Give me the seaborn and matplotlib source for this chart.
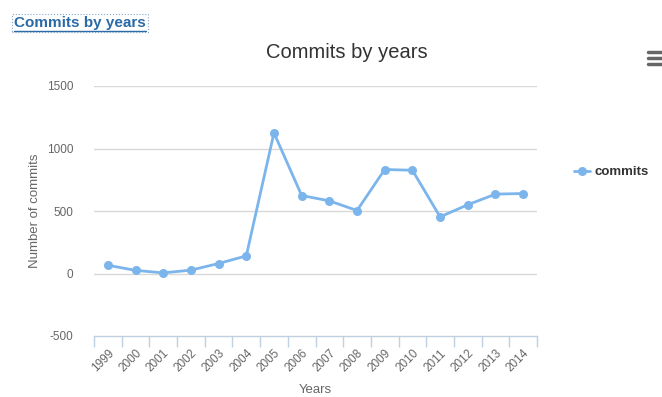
import matplotlib
matplotlib.use("Agg")
import matplotlib.pyplot as plt
from matplotlib.lines import Line2D
import seaborn as sns
import pandas as pd

years = ["1999", "2000", "2001", "2002", "2003", "2004", "2005", "2006",
         "2007", "2008", "2009", "2010", "2011", "2012", "2013", "2014"]
commits = [66, 25, 5, 27, 80, 141, 1125, 624, 581, 504, 832, 826, 453, 550, 635, 640]
yticks = [-500, 0, 500, 1000, 1500]
series_name = "commits"
title = "Commits by years"

df = pd.DataFrame({"year": years, series_name: commits})

sns.set_theme(style="white")
plt.rcParams["font.family"] = ["Liberation Sans", "DejaVu Sans"]

W, H, DPI = 662, 397, 100
fig = plt.figure(figsize=(W / DPI, H / DPI), dpi=DPI)
ax = fig.add_axes([94 / W, 1 - 336 / H, (537 - 94) / W, (336 - 86) / H])

color = "#7cb5ec"
sns.lineplot(data=df, x="year", y=series_name, ax=ax, color=color, lw=2,
             marker="o", markersize=6.5, markeredgewidth=0, label=series_name,
             sort=False)

n = len(years)
ax.set_xlim(-0.5, n - 0.5)
ax.set_ylim(yticks[0], yticks[-1])
ax.set_yticks(yticks)
ax.set_yticklabels([str(v) for v in yticks], color="#666666", fontsize=8.5)
for v in yticks[1:]:
    ax.axhline(v, color="#d8d8d8", lw=1, zorder=0)

ax.set_xticks(range(n))
ax.set_xticklabels(years, rotation=45, ha="right", rotation_mode="anchor",
                   color="#666666", fontsize=8.5)
ax.set_xticks([i - 0.5 for i in range(n + 1)], minor=True)
ax.tick_params(axis="x", which="major", length=0, pad=8)
ax.tick_params(axis="x", which="minor", length=8, width=1, color="#c0d0e0",
               direction="out", bottom=True)
ax.tick_params(axis="y", length=0, pad=15)

for s in ["top", "right", "left"]:
    ax.spines[s].set_visible(False)
ax.spines["bottom"].set_color("#c0d0e0")
ax.spines["bottom"].set_linewidth(1)

ax.set_xlabel("Years", color="#666666", fontsize=9.5, labelpad=7)
ax.set_ylabel("Number of commits", color="#666666", fontsize=9.5, labelpad=4)

leg = ax.legend(loc="center left", bbox_to_anchor=((562 - 94) / (537 - 94), (336 - 172) / 250),
                frameon=False, handlelength=1.2, handletextpad=0.35,
                prop={"weight": "bold", "size": 9.5})
for t in leg.get_texts():
    t.set_color("#333333")

fig.text(347 / W, 1 - 53 / H, title, ha="center", va="center",
         fontsize=14.5, color="#333333")

link = fig.text(14 / W, 1 - 23 / H, title, ha="left", va="center",
                fontsize=11, fontweight="bold", color="#2a6aa6",
                bbox=dict(boxstyle="square,pad=0.15", fc="none", ec="#7fa6cc",
                          ls=":", lw=0.8))
fig.canvas.draw()
bb = link.get_window_extent(fig.canvas.get_renderer())
uy = (bb.y0 - 1) / H
fig.add_artist(Line2D([bb.x0 / W, bb.x1 / W], [uy, uy], color="#2a6aa6", lw=1,
                      transform=fig.transFigure))

for yy in (52, 58, 64):
    fig.add_artist(Line2D([648 / W, 1.0], [1 - yy / H, 1 - yy / H],
                          color="#666666", lw=2.5, transform=fig.transFigure))

fig.savefig("out.png", dpi=DPI)
